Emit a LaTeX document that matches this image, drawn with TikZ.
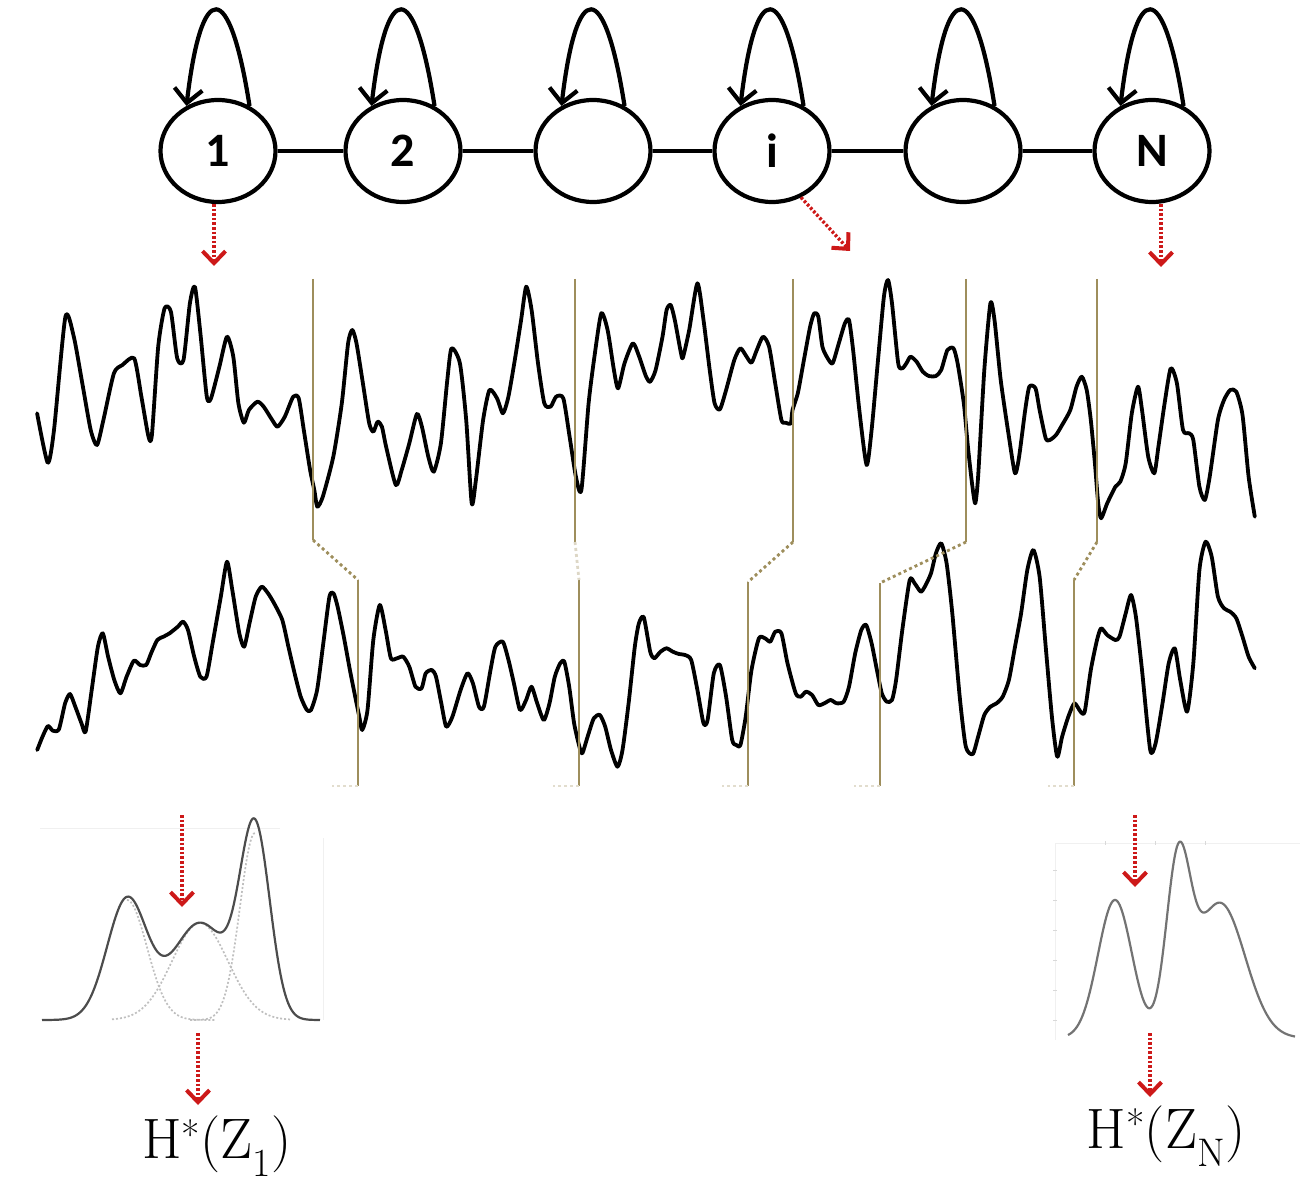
\documentclass[tikz,border=0pt]{standalone}
\usepackage{fontspec}
\newfontfamily\lblfont{Carlito}
\usetikzlibrary{shapes.geometric,arrows.meta}
\definecolor{sepc}{RGB}{158,142,92}
\definecolor{arrred}{RGB}{205,25,25}
\begin{document}
\begin{tikzpicture}[x=1pt,y=-1pt,
  state/.style={ellipse, draw, line width=4.2pt, minimum width=115pt, minimum height=102pt, inner sep=0pt,
    font=\lblfont\bfseries\fontsize{48}{52}\selectfont},
  link/.style={line width=4.5pt},
  selfloop/.style={line width=4.2pt, -{Straight Barb[length=14pt,width=28pt,line width=4.2pt]}},
  redarr/.style={draw=arrred, line width=3.4pt, dash pattern=on 2.6pt off 2pt,
    -{Straight Barb[length=12pt,width=23pt,line width=4pt]}},
  sig/.style={line width=3.8pt, line join=round, line cap=round},
  sepline/.style={draw=sepc, line width=2.8pt},
  sepdot/.style={draw=sepc, line width=2.8pt, dash pattern=on 3pt off 3pt},
  septick/.style={draw=sepc!30, line width=2pt, dash pattern=on 3pt off 3pt},
  dist/.style={line width=2.2pt, line join=round},
  comp/.style={draw=black!25, line width=1.7pt, dash pattern=on 2pt off 2pt},
  faint/.style={draw=black!6, line width=1pt},
  lbl/.style={inner sep=0pt, font=\fontsize{57}{66}\selectfont}
]
\useasboundingbox (0,0) rectangle (1312,1190);

% ---------- chain of states ----------
\node[state] (n1) at (218,151) {1};
\node[state] (n2) at (403,151) {2};
\node[state] (n3) at (593,151) {};
\node[state] (ni) at (772,151) {i};
\node[state] (n5) at (963,151) {};
\node[state] (nN) at (1152,151) {N};

\draw[link] (n1) -- (n2);
\draw[link] (n2) -- (n3);
\draw[link] (n3) -- (ni);
\draw[link] (ni) -- (n5);
\draw[link] (n5) -- (nN);

\foreach \n in {n1,n2,n3,ni,n5,nN}{
  \draw[selfloop] (\n.55) .. controls +(-20,-128) and +(15,-128) .. (\n.125);
}

% ---------- red arrows from states ----------
\coordinate (t1) at (214,266);
\coordinate (ti) at (850,251);
\coordinate (tN) at (1161,267);
\draw[redarr] (n1.south -| t1) -- (t1);
\draw[redarr] (ni.-58) -- (ti);
\draw[redarr] (nN.south -| tN) -- (tN);

% ---------- upper signal ----------
\draw[sig] plot[smooth, tension=0.4] coordinates {
(37.1,413.3) (47.7,462.7) (54.0,430) (65.4,316.7) (73.8,336.7) (82.3,383.3) (90.7,430) (97.0,445) (103.4,420) (113.9,373.3) (122.4,365) (134.2,358.3) (141.4,396.7) (148.5,436.7) (151.9,435) (158.2,346.7) (164.6,308.3) (170.9,311.7) (177.2,358.3) (183.5,360) (189.9,303.3) (194.9,286.7) (200.4,333.3) (206.8,396.7) (211.0,398.3) (219.4,366.7) (227.0,336.7) (233.3,356.7) (238.4,403.3) (243.9,422.7) (248.9,410) (257.4,401.7) (263.7,406.7) (272.2,420) (277.6,426.7) (284.8,416.7) (293.2,396.7) (298.7,398.3) (303.8,430) (310.1,470) (314.3,490) (317.3,506.7) (322.8,496.7) (333.3,456.7) (341.8,403.3) (348.1,343.3) (352.3,330) (356.5,343.3) (362.9,383.3) (369.2,423.3) (373.4,431.7) (377.6,421.7) (381.9,426.7) (386.1,446.7) (395.8,485) (401.7,470) (409.3,443.3) (416.9,414) (421.9,426.7) (428.3,456.7) (433.8,471.7) (440.9,443.3) (447.3,380) (451.5,348.3) (459.9,363.3) (466.2,420) (471.7,503.3) (475.9,480) (483.1,420) (489.5,390) (497.0,398.3) (502.9,413.3) (508.4,396.7) (514.8,360) (521.1,320) (526.2,286.7) (531.6,310) (538.0,363.3) (544.3,403.3) (550.6,406.7) (556.1,396.7) (563.3,398.3) (569.6,436.7) (575.9,476.7) (581.4,490) (588.6,403.3) (594.9,353.3) (601.3,313.3) (607.6,330) (613.9,370) (618.1,388.3) (624.5,363.3) (632.9,343.3) (639.2,356.7) (646.1,376.7) (650.2,381.7) (655.6,370) (662.5,336.7) (666.6,310) (670.7,305) (674.8,320) (681.0,353.3) (683.0,357.3) (689.2,330) (697.4,283.3) (703.5,320) (709.7,370) (714.6,403.3) (719.9,409.3) (726.1,390) (734.3,360) (740.4,348.3) (746.6,356.7) (751.5,362.7) (756.8,350) (763.0,336.7) (769.1,346.7) (775.2,383.3) (781.4,420) (785.5,422.7) (790.8,423.3) (792.5,410) (797.8,393.3) (803.9,360) (810.1,326.7) (814.2,313.3) (818.3,316.7) (822.4,346.7) (827.7,358.3) (832.6,363.3) (838.8,343.3) (844.9,323.3) (849.0,320) (853.1,350) (859.3,410) (866.6,465) (871.6,430) (877.7,363.3) (883.9,296.7) (888.0,280) (892.0,303.3) (898.2,363.3) (902.3,368.3) (906.4,363.3) (910.5,356.7) (916.6,361.7) (922.8,371.7) (928.9,376) (935.9,376) (941.2,370) (947.4,350) (953.5,348.3) (957.6,363.3) (963.8,403.3) (967.9,446.7) (972.0,483.3) (975.2,503.3) (978.1,476.7) (984.3,370) (990.4,303.3) (994.5,320) (1000.7,380) (1008.9,436.7) (1015.0,473.3) (1019.1,456.7) (1025.2,410) (1029.3,386.7) (1035.5,388.3) (1039.6,410) (1045.7,438.3) (1049.8,440) (1056.0,435) (1062.1,425) (1070.3,410) (1076.5,386.7) (1081.8,376.7) (1086.7,390) (1090.8,420) (1094.9,463.3) (1098.2,503.3) (1101.1,518.3) (1107.2,503.3) (1115.4,486.7) (1120.3,481.7) (1125.7,463.3) (1131.8,413.3) (1138.0,386.7) (1142.0,410) (1148.2,456.7) (1154.3,473.3) (1158.4,446.7) (1164.6,403.3) (1170.7,368.3) (1176.9,383.3) (1183.0,430) (1189.2,433.3) (1193.3,440) (1199.4,486.7) (1204.8,500) (1209.7,476.7) (1217.9,420) (1224.0,400) (1230.2,390) (1236.3,391.7) (1242.5,415) (1248.6,476.7) (1254.8,516.7)
};

% ---------- lower signal ----------
\draw[sig] plot[smooth, tension=0.4] coordinates {
(37.2,750) (42.5,736.7) (47.9,726) (52.8,730.7) (58.9,729.3) (65.1,703.3) (70.0,694) (75.3,706.7) (81.5,723.3) (85.6,731.7) (91.7,690) (97.9,646.7) (102.8,633.3) (108.1,656.7) (114.3,680) (120.4,693.3) (126.6,676.7) (133.9,660.7) (140.1,665) (146.2,665) (151.1,653.3) (157.3,640) (163.4,636.7) (169.6,633.3) (177.8,626.7) (183.1,621.7) (188.0,630) (194.2,656.7) (200.3,676.7) (206.5,676.7) (212.6,643.3) (220.8,596.7) (227.0,561.7) (232.3,590) (239.3,633.3) (244.2,646.7) (249.5,623.3) (255.7,596.7) (261.8,586.7) (268.0,593.3) (274.1,603.3) (282.3,620) (288.4,646.7) (294.6,673.3) (300.7,696.7) (306.9,710) (311.0,710) (317.1,690) (323.3,643.3) (329.4,596.7) (333.5,593.3) (337.6,606.7) (343.8,636.7) (349.9,670) (355.2,696.7) (359.3,716.7) (362.2,730) (367.5,710) (373.3,640) (379.8,605) (385.6,630) (390.9,658.3) (397.0,658.3) (403.2,656.7) (409.3,666.7) (415.5,686.7) (421.6,688.3) (425.7,673.3) (431.9,670) (436.0,676.7) (441.3,703.3) (446.2,726.7) (452.4,716.7) (460.6,690) (467.5,673.3) (472.9,683.3) (479.0,706.7) (483.9,706.7) (490.5,670) (495.4,646.7) (502.8,641.7) (508.5,660) (513.9,683.3) (520.0,710) (526.1,700) (531.5,686.7) (537.2,703.3) (543.8,720) (549.5,703.3) (554.8,676.7) (560.2,663.3) (564.3,661.7) (569.2,686.7) (574.1,723.3) (579.4,746.7) (582.3,753.3) (587.6,736.7) (593.8,718.3) (599.9,715) (605.2,726.7) (611.0,750) (617.5,766.7) (622.5,750) (628.6,703.3) (634.8,646.7) (638.9,623.3) (643.8,617.3) (650.2,651.7) (654.3,658.3) (660.5,651.7) (666.6,648.3) (672.8,651.7) (678.9,654) (685.1,655) (691.2,660) (697.4,690) (703.5,723.3) (707.6,720) (713.8,673.3) (719.9,665) (726.1,696.7) (732.2,740) (736.3,745) (740.4,745) (745.7,716.7) (751.5,670) (758.9,638.3) (765.0,638.3) (770.3,641.7) (775.2,631.7) (781.4,633.3) (787.5,663.3) (795.7,693.3) (800.7,696.7) (806.0,691.7) (812.1,695) (818.3,705) (824.4,703.3) (830.6,700) (836.7,703.3) (843.7,701.7) (849.0,686.7) (855.2,653.3) (861.3,630) (866.2,625) (871.6,643.3) (876.9,670) (881.8,693.3) (886.7,701.7) (892.0,700) (896.1,680) (902.3,630) (909.7,580) (914.6,583.3) (920.7,591.7) (924.8,586.7) (931.0,573.3) (935.9,553.3) (941.2,543.3) (946.6,563.3) (952.3,613.3) (959.7,696.7) (965.8,746.7) (972.8,754) (978.1,736.7) (984.3,715) (990.4,706.7) (996.6,703.3) (1002.7,696.7) (1008.9,680) (1015.0,646.7) (1021.1,613.3) (1027.3,570) (1033.4,550) (1039.6,576.7) (1045.7,646.7) (1051.9,716.7) (1057.2,756.7) (1062.1,736.7) (1068.3,716.7) (1074.4,703.3) (1080.6,711.7) (1084.7,711.7) (1090.8,670) (1097.0,640) (1101.1,628.3) (1107.2,635) (1115.4,640) (1119.5,636.7) (1125.7,613.3) (1131.0,595) (1135.9,616.7) (1142.0,670) (1150.2,750) (1155.6,743.3) (1162.5,703.3) (1168.7,663.3) (1174.8,648.3) (1180.2,680) (1187.1,711.7) (1193.3,663.3) (1199.4,570) (1205.6,541.7) (1211.7,556.7) (1217.9,596.7) (1224.0,608.3) (1230.2,611.7) (1236.3,618.3) (1242.5,636.7) (1248.6,656.7) (1254.8,668.3)
};

% ---------- segment separators ----------
\foreach \xa/\xb/\ya/\yb [count=\k] in {313/358/540/580, 575/579/542/580, 793/748/542/582, 966/880/542/583, 1097/1074/542/580}{
  \coordinate (sa\k) at (\xa,279);
  \coordinate (sb\k) at (\xa,\ya);
  \coordinate (sc\k) at (\xb,\yb);
  \coordinate (sd\k) at (\xb,786);
  \draw[sepline] (sa\k) -- (sb\k);
  \draw[sepline] (sc\k) -- (sd\k);
  \draw[septick] (sd\k) -- ++(-26,0);
}
\draw[sepdot] (sb1) -- (sc1);
\draw[sepdot, draw=sepc!35] (sb2) -- (sc2);
\draw[sepdot] (sb3) -- (sc3);
\draw[sepdot] (sb4) -- (sc4);
\draw[sepdot] (sb5) -- (sc5);

% ---------- left distribution ----------
\draw[faint] (40,828) -- (280,828);
\draw[faint] (323,838) -- (323,1020);
\draw[comp] plot[domain=127:215, samples=60] (\x, {1020 - 120*exp(-0.5*((\x-127)/20)^2)});
\draw[comp] plot[domain=112:290, samples=90] (\x, {1020 - 97*exp(-0.5*((\x-200)/28)^2)});
\draw[comp] plot[domain=190:255, samples=50] (\x, {1020 - 187*exp(-0.5*((\x-255)/15)^2)});
\draw[dist, draw=black!70] plot[domain=42:320, samples=220]
  (\x, {1020 - 120*exp(-0.5*((\x-127)/20)^2) - 97*exp(-0.5*((\x-200)/28)^2) - 187*exp(-0.5*((\x-255)/15)^2)});

% ---------- right distribution ----------
\draw[faint] (1055,843) -- (1300,843);
\draw[faint] (1055,843) -- (1055,1040);
\foreach \tx in {1105,1155,1205}{\draw[draw=black!15, line width=1pt] (\tx,841) -- (\tx,845);}
\foreach \ty in {870,900,930,960,990,1020}{\draw[draw=black!15, line width=1pt] (1053,\ty) -- (1057,\ty);}
\draw[dist, draw=black!55] plot[domain=1068:1295, samples=220]
  (\x, {1038 - 138*exp(-0.5*((\x-1115)/17)^2) - 161*exp(-0.5*((\x-1178)/12)^2) - 135*exp(-0.5*((\x-1220)/25)^2)});

% ---------- arrows and labels at bottom ----------
\coordinate (la1) at (182,815);
\coordinate (la2) at (182,907);
\coordinate (lb1) at (198,1033);
\coordinate (lb2) at (198,1105);
\node[lbl] (h1) at (217,1146) {H\textsuperscript{*}(Z\textsubscript{1})};
\draw[redarr] (la1) -- (la2);
\draw[redarr] (lb1) -- (lb2);

\coordinate (ra1) at (1135,815);
\coordinate (ra2) at (1135,887);
\coordinate (rb1) at (1150,1033);
\coordinate (rb2) at (1150,1097);
\node[lbl] (hN) at (1166,1136) {H\textsuperscript{*}(Z\textsubscript{N})};
\draw[redarr] (ra1) -- (ra2);
\draw[redarr] (rb1) -- (rb2);
\end{tikzpicture}
\end{document}
